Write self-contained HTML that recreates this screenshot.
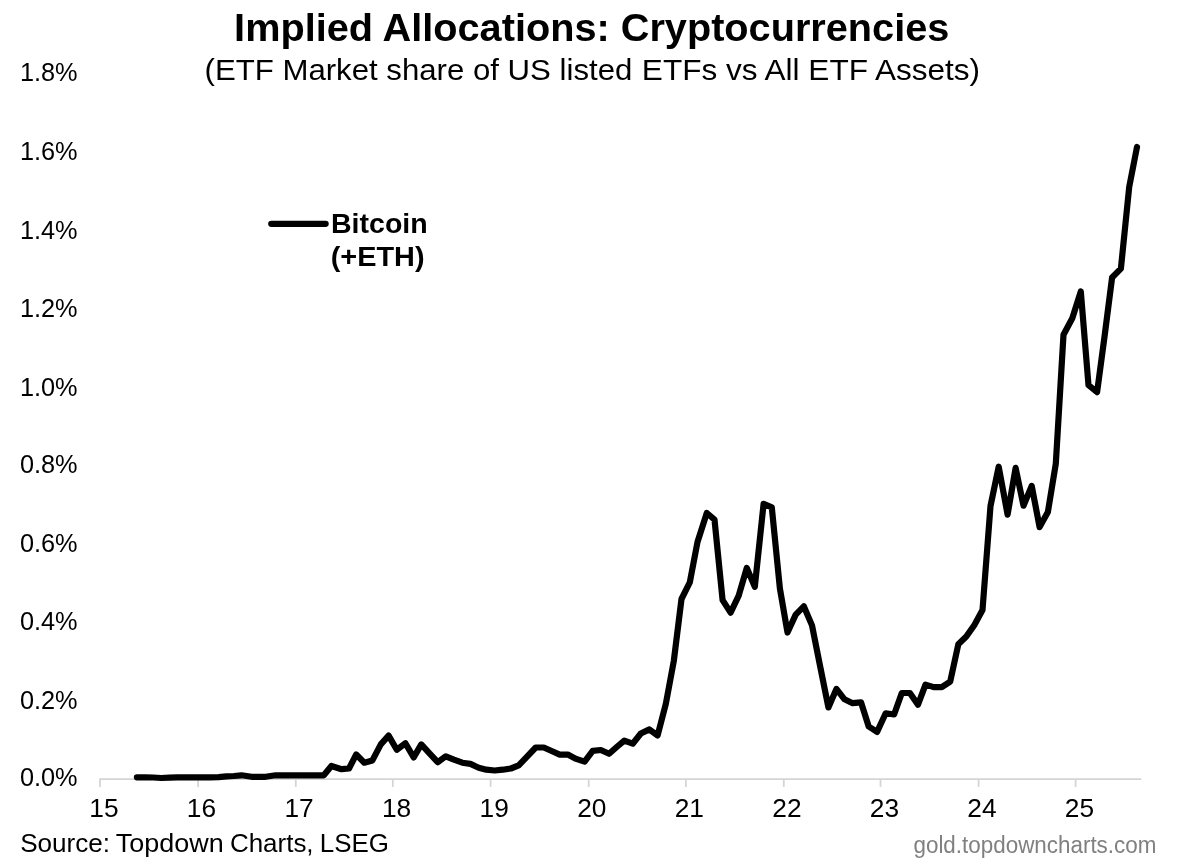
<!DOCTYPE html>
<html><head><meta charset="utf-8"><title>Implied Allocations: Cryptocurrencies</title>
<style>
html,body{margin:0;padding:0;background:#fff;}
body{width:1185px;height:865px;overflow:hidden;}
svg{display:block;font-family:"Liberation Sans",Arial,sans-serif;}
</style></head><body>
<svg width="1185" height="865" viewBox="0 0 1185 865">
<rect width="1185" height="865" fill="#fff"/>
<g stroke="#d4d4d4" stroke-width="1.75" fill="none"><line x1="99.1" y1="779.0" x2="1141.2" y2="779.0"/><line x1="99.95" y1="779.0" x2="99.95" y2="786.9"/><line x1="198.10" y1="779.0" x2="198.10" y2="786.9"/><line x1="295.80" y1="779.0" x2="295.80" y2="786.9"/><line x1="392.80" y1="779.0" x2="392.80" y2="786.9"/><line x1="490.60" y1="779.0" x2="490.60" y2="786.9"/><line x1="588.70" y1="779.0" x2="588.70" y2="786.9"/><line x1="685.90" y1="779.0" x2="685.90" y2="786.9"/><line x1="783.80" y1="779.0" x2="783.80" y2="786.9"/><line x1="880.50" y1="779.0" x2="880.50" y2="786.9"/><line x1="978.60" y1="779.0" x2="978.60" y2="786.9"/><line x1="1075.60" y1="779.0" x2="1075.60" y2="786.9"/></g>
<g font-size="26.3" fill="#000"><text x="104.0" y="816.9" text-anchor="middle">15</text><text x="201.5" y="816.9" text-anchor="middle">16</text><text x="299.1" y="816.9" text-anchor="middle">17</text><text x="396.6" y="816.9" text-anchor="middle">18</text><text x="494.2" y="816.9" text-anchor="middle">19</text><text x="591.8" y="816.9" text-anchor="middle">20</text><text x="689.3" y="816.9" text-anchor="middle">21</text><text x="786.9" y="816.9" text-anchor="middle">22</text><text x="884.4" y="816.9" text-anchor="middle">23</text><text x="981.9" y="816.9" text-anchor="middle">24</text><text x="1079.5" y="816.9" text-anchor="middle">25</text></g>
<g font-size="26.5" fill="#000"><text x="19.9" y="786.40" textLength="57.7" lengthAdjust="spacingAndGlyphs">0.0%</text><text x="19.9" y="709.00" textLength="57.7" lengthAdjust="spacingAndGlyphs">0.2%</text><text x="19.9" y="629.50" textLength="57.7" lengthAdjust="spacingAndGlyphs">0.4%</text><text x="19.9" y="551.60" textLength="57.7" lengthAdjust="spacingAndGlyphs">0.6%</text><text x="19.9" y="472.85" textLength="57.7" lengthAdjust="spacingAndGlyphs">0.8%</text><text x="19.9" y="395.85" textLength="57.7" lengthAdjust="spacingAndGlyphs">1.0%</text><text x="19.9" y="317.35" textLength="57.7" lengthAdjust="spacingAndGlyphs">1.2%</text><text x="19.9" y="238.85" textLength="57.7" lengthAdjust="spacingAndGlyphs">1.4%</text><text x="19.9" y="160.10" textLength="57.7" lengthAdjust="spacingAndGlyphs">1.6%</text><text x="19.9" y="80.70" textLength="57.7" lengthAdjust="spacingAndGlyphs">1.8%</text></g>
<text id="title" x="234.13" y="41.10" font-size="39.2" textLength="715.22" lengthAdjust="spacingAndGlyphs" font-weight="bold">Implied Allocations: Cryptocurrencies</text>
<text y="79.60" font-size="30"><tspan id="sub1" x="204.56" textLength="427.76" lengthAdjust="spacingAndGlyphs">(ETF Market share of US listed</tspan> <tspan id="sub2" x="641.86" textLength="338.25" lengthAdjust="spacingAndGlyphs">ETFs vs All ETF Assets)</tspan></text>
<line x1="271.3" y1="223.8" x2="325.6" y2="223.8" stroke="#000" stroke-width="6.3" stroke-linecap="round"/>
<text id="leg1" x="330.98" y="233.20" font-size="27.2" textLength="96.75" lengthAdjust="spacingAndGlyphs" font-weight="bold">Bitcoin</text>
<text id="leg2" x="330.68" y="265.60" font-size="27.2" textLength="93.83" lengthAdjust="spacingAndGlyphs" font-weight="bold">(+ETH)</text>
<path d="M136.9 777.3 L145.0 777.3 L153.2 777.5 L161.3 778.0 L169.4 777.6 L177.5 777.4 L185.7 777.3 L193.8 777.3 L201.9 777.3 L210.0 777.3 L218.7 777.2 L226.5 776.3 L234.0 776.0 L241.5 775.3 L251.6 776.8 L258.5 776.8 L265.6 776.8 L275.7 775.3 L283.2 775.3 L291.3 775.3 L299.4 775.3 L307.5 775.3 L315.7 775.3 L323.8 775.3 L331.4 766.0 L341.5 769.2 L349.0 768.5 L356.2 754.5 L364.3 762.7 L372.4 760.4 L380.8 744.4 L388.6 735.6 L396.8 749.8 L405.4 743.2 L413.7 757.4 L421.3 744.4 L429.5 753.3 L437.7 762.2 L445.8 756.3 L453.9 759.6 L462.3 762.7 L470.4 763.9 L478.7 767.7 L486.3 769.7 L494.7 770.5 L502.8 769.7 L510.9 768.5 L518.7 765.4 L527.3 756.3 L535.7 747.5 L543.8 747.5 L552.2 751.3 L559.7 754.6 L567.8 754.6 L576.2 758.9 L584.6 761.6 L592.7 750.8 L600.8 750.0 L609.1 753.8 L616.7 747.0 L624.3 740.6 L632.7 743.7 L640.8 733.5 L649.4 729.4 L657.6 735.5 L665.8 704.0 L673.8 661.0 L681.5 599.0 L689.8 582.4 L697.5 542.0 L706.8 513.0 L714.5 519.6 L722.6 600.2 L730.6 612.7 L738.7 595.7 L746.8 567.9 L754.8 586.8 L763.6 503.8 L771.8 507.4 L779.9 588.5 L787.5 632.5 L795.7 614.6 L803.8 606.3 L812.0 625.4 L820.1 666.2 L828.4 707.4 L836.4 688.9 L844.5 699.3 L852.6 703.2 L861.0 702.3 L868.7 726.5 L877.1 731.9 L885.7 713.3 L894.1 714.5 L901.8 693.0 L909.9 693.0 L918.0 704.7 L925.5 684.6 L933.7 687.1 L941.8 687.1 L950.2 681.7 L958.3 644.3 L966.3 636.6 L974.4 624.9 L982.5 610.0 L990.5 506.0 L998.7 466.7 L1007.6 514.6 L1015.6 467.9 L1023.5 505.7 L1031.7 485.9 L1039.6 527.1 L1047.9 511.9 L1055.8 463.7 L1063.5 334.8 L1072.3 318.2 L1080.8 291.4 L1088.5 385.2 L1097.1 392.1 L1104.6 336.0 L1112.1 277.5 L1120.9 268.6 L1129.2 187.0 L1137.0 147.0" fill="none" stroke="#000" stroke-width="6.2" stroke-linejoin="round" stroke-linecap="round"/>
<text y="852.20" font-size="25.4"><tspan id="src1" x="20.17" textLength="89.97" lengthAdjust="spacingAndGlyphs">Source:</tspan> <tspan id="src2" x="115.86" textLength="107.86" lengthAdjust="spacingAndGlyphs">Topdown</tspan> <tspan id="src3" x="229.95" textLength="83.65" lengthAdjust="spacingAndGlyphs">Charts,</tspan> <tspan id="src4" x="319.88" textLength="69.11" lengthAdjust="spacingAndGlyphs">LSEG</tspan></text>
<text id="url" x="913.48" y="852.70" font-size="23" textLength="242.92" lengthAdjust="spacingAndGlyphs" fill="#808080">gold.topdowncharts.com</text>
</svg>
</body></html>
